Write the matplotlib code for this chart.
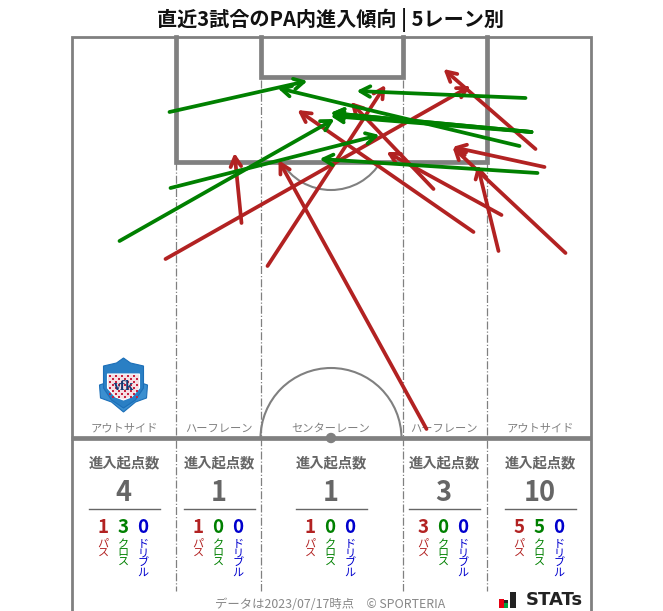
import matplotlib
matplotlib.use('Agg')
import matplotlib.pyplot as plt
from matplotlib.patches import Arc, Circle, Rectangle, Polygon

plt.rcParams['font.family'] = ['Noto Sans CJK JP', 'DejaVu Sans']

RED = '#b22222'
GREEN = '#008000'
BLUE = '#0000cd'
GRAY = '#808080'

# arrows as x0, y0, x1, y1 in pixels
pass_arrows = [
    (427, 429, 279, 160),
    (268, 266, 386, 85),
    (166, 259, 471, 86),
    (242, 223, 235, 153),
    (474, 232, 298, 110),
    (434, 189, 351, 102),
    (502, 215, 387, 152),
    (536, 149, 444, 69),
    (545, 167, 453, 147),
    (499, 251, 478, 165),
    (566, 253, 453, 147),
]
cross_arrows = [
    (120, 241, 335, 119),
    (171, 188, 380, 135),
    (170, 112, 308, 81),
    (520, 146, 278, 88),
    (526, 98, 357, 91),
    (532, 132, 331, 113),
    (532, 132, 331, 113),
    (532, 132, 331, 116),
    (538, 173, 320, 159),
]

zone_names = ['アウトサイド', 'ハーフレーン', 'センターレーン', 'ハーフレーン', 'アウトサイド']
zone_x = [124.5, 219.5, 331.5, 444.5, 540.5]
zone_total = [4, 1, 1, 3, 10]
zone_pass = [1, 1, 1, 3, 5]
zone_cross = [3, 0, 0, 0, 5]
zone_drib = [0, 0, 0, 0, 0]
kinds = ['パス', 'クロス', 'ドリブル']
kind_colors = [RED, GREEN, BLUE]
lane_x = [176, 261, 403, 487]

fig = plt.figure(figsize=(6.63, 6.11), dpi=100)
ax = fig.add_axes([0, 0, 1, 1])
ax.set_xlim(0.5, 663.5)
ax.set_ylim(611, 0)
ax.axis('off')

ax.text(331, 19.5, '直近3試合のPA内進入傾向 | 5レーン別', ha='center', va='center',
        fontsize=14.5, fontweight='bold', color='#111111')

# pitch
ax.plot([72, 72, 591, 591], [612, 37, 37, 612], color=GRAY, lw=2, solid_joinstyle='miter')
ax.plot([71, 591], [438, 438], color=GRAY, lw=3.4, solid_capstyle='butt')
ax.add_patch(Circle((331.5, 438), 4.5, color=GRAY, zorder=2))
ax.plot([176, 176, 487, 487], [37, 162, 162, 37], color=GRAY, lw=3.4, solid_joinstyle='miter')
ax.plot([261, 261, 403, 403], [37, 77, 77, 37], color=GRAY, lw=3.4, solid_joinstyle='miter')
ax.add_patch(Arc((331.5, 438.5), 141, 141, theta1=180, theta2=360, color=GRAY, lw=1.5))
ax.add_patch(Arc((331.5, 132), 116, 116, theta1=30, theta2=150, color=GRAY, lw=1.5))
for x in lane_x:
    ax.plot([x, x], [80 if x in (261, 403) else 162, 591], color=GRAY, lw=0.9, ls='-.')

# arrows
def arrow(a, color):
    ax.annotate('', xy=(a[2], a[3]), xytext=(a[0], a[1]), zorder=4,
                arrowprops=dict(arrowstyle='->,head_length=0.7,head_width=0.38', color=color,
                                lw=2.7, shrinkA=0, shrinkB=0))

for a in pass_arrows:
    arrow(a, RED)
for a in cross_arrows:
    arrow(a, GREEN)

# zone text
for i, x in enumerate(zone_x):
    ax.text(x, 429, zone_names[i], ha='center', va='center', fontsize=8.1, color='#808080')
    ax.text(x, 463, '進入起点数', ha='center', va='center', fontsize=10.3,
            fontweight='bold', color='#666666')
    ax.text(x - 0.5, 493, str(zone_total[i]), ha='center', va='center', fontsize=19.5,
            fontweight='bold', color='#666666')
    ax.plot([x - 35.5, x + 35.5], [508.5, 508.5], color='#666666', lw=1)
    counts = [zone_pass[i], zone_cross[i], zone_drib[i]]
    for j in range(3):
        xx = x - 21 + j * 20
        ax.text(xx, 527.5, str(counts[j]), ha='center', va='center', fontsize=13.5,
                fontweight='bold', color=kind_colors[j])
        ax.text(xx, 539, '\n'.join(kinds[j]), ha='center', va='top', fontsize=8,
                color=kind_colors[j], linespacing=0.93)

ax.text(331, 605, 'データは2023/07/17時点　© SPORTERIA', ha='center', va='center',
        fontsize=8.9, color='#888888')

# crest drawn with simple shapes
ax.add_patch(Polygon([(100, 385), (106, 383), (142, 383), (148, 385), (147, 398), (136, 402),
                      (124, 412), (112, 402), (101, 398)],
                     closed=True, fc='#3b8fd0', ec='#1c6fb8', lw=0.8, zorder=3))
ax.add_patch(Polygon([(124, 358), (131, 363), (144, 366), (144, 388), (136, 400), (124, 408),
                      (112, 400), (104, 388), (104, 366), (117, 363)],
                     closed=True, fc='#2a7fc4', ec='#1c6fb8', lw=0.8, zorder=3))
ax.add_patch(Polygon([(108, 374), (140, 374), (140, 388), (132, 397), (124, 400), (116, 397), (108, 388)],
                     closed=True, fc='#f4dfe3', ec='white', lw=0.8, zorder=3))
for row in range(8):
    for col in range(10):
        if (row + col) % 2 == 0:
            ax.add_patch(Rectangle((109 + col * 3, 375 + row * 3), 2, 2, fc='#c8223f', lw=0, zorder=3))
ax.text(124, 386, 'vfk', ha='center', va='center', fontsize=8.5, color='#123a73',
        fontweight='bold', family='DejaVu Serif', zorder=4)

# STATS logo
ax.add_patch(Rectangle((499, 599), 5, 9, fc='#e60012', lw=0))
ax.add_patch(Rectangle((504, 603), 4, 5, fc='#00a040', lw=0))
ax.add_patch(Rectangle((504, 600), 4, 3, fc='#222222', lw=0))
ax.add_patch(Rectangle((510, 592), 6, 16, fc='#222222', lw=0))
ax.text(555, 600, 'STATs', ha='center', va='center', fontsize=13, fontweight='bold',
        family='DejaVu Sans', color='#222222')

fig.savefig('out.png', dpi=100)
